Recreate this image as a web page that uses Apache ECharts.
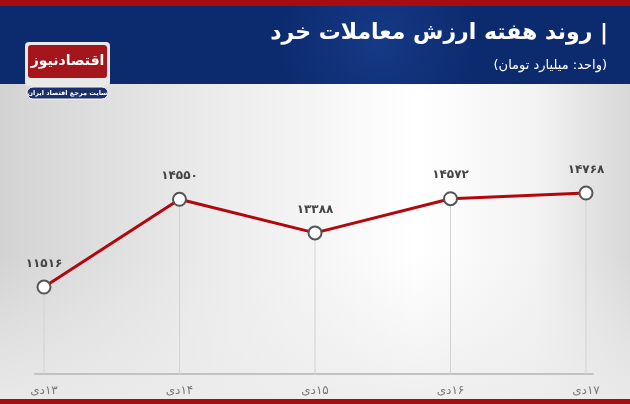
<!DOCTYPE html>
<html>
<head>
<meta charset="utf-8">
<script src="https://cdn.jsdelivr.net/npm/echarts@6/dist/echarts.min.js"></script>
<style>
html,body{margin:0;padding:0;}
#c{width:630px;height:404px;direction:rtl;}
</style>
</head>
<body>
<div id="c"></div>
<script>
const categories = ['۱۳دی', '۱۴دی', '۱۵دی', '۱۶دی', '۱۷دی'];
const values = [11516, 14550, 13388, 14572, 14768];
const titleText = '| روند هفته ارزش معاملات خرد';
const subtitleText = '(واحد: میلیارد تومان)';
const logoText = 'اقتصادنیوز';
const logoTagline = 'سایت مرجع اقتصاد ایران';

const faDigits = '۰۱۲۳۴۵۶۷۸۹';
function toFa(n) { return String(n).replace(/\d/g, d => faDigits[+d]); }

const FONT = '"DejaVu Sans", "Noto Sans", sans-serif';
const chart = echarts.init(document.getElementById('c'), null, {renderer: 'canvas'});

chart.setOption({
  animation: false,
  backgroundColor: '#eeeeee',
  textStyle: {fontFamily: FONT},
  graphic: [
    {type: 'rect', shape: {x: 0, y: 84, width: 630, height: 315}, z: -10, silent: true,
      style: {fill: {type: 'linear', x: 0, y: 0, x2: 1, y2: 0, colorStops: [
        {offset: 0, color: '#d3d3d3'}, {offset: 0.35, color: '#ececec'},
        {offset: 0.66, color: '#ffffff'}, {offset: 0.85, color: '#f3f3f3'}, {offset: 1, color: '#d8d8d8'}]}}},
    {type: 'rect', shape: {x: 0, y: 84, width: 630, height: 315}, z: -9, silent: true,
      style: {fill: {type: 'linear', x: 0, y: 0, x2: 0, y2: 1, colorStops: [
        {offset: 0, color: 'rgba(238,238,238,0)'}, {offset: 0.55, color: 'rgba(238,238,238,0)'},
        {offset: 1, color: 'rgba(236,236,236,0.85)'}]}}},
    {type: 'rect', shape: {x: 0, y: 0, width: 630, height: 84}, z: 100,
      style: {fill: {type: 'radial', x: 0.6, y: 0.5, r: 1.2, colorStops: [
        {offset: 0, color: '#163a86'}, {offset: 1, color: '#0c2a6e'}]}}},
    {type: 'rect', shape: {x: 0, y: 0, width: 630, height: 6}, z: 101, style: {fill: '#a60c10'}},
    {type: 'rect', shape: {x: 0, y: 399, width: 630, height: 5}, z: 101, style: {fill: '#a60c10'}},
    {type: 'text', z: 102, style: {x: 608, y: 33, text: titleText, align: 'right', verticalAlign: 'middle',
      fill: '#ffffff', font: 'bold 22px ' + FONT}},
    {type: 'text', z: 102, style: {x: 607, y: 66, text: subtitleText, align: 'right', verticalAlign: 'middle',
      fill: '#ffffff', font: '13px ' + FONT}},
    {type: 'rect', z: 103, shape: {x: 25, y: 42, width: 85, height: 44, r: 4}, style: {fill: '#e9e9e9'}},
    {type: 'rect', z: 104, shape: {x: 28, y: 45, width: 79, height: 33, r: 3}, style: {fill: '#a4161b'}},
    {type: 'text', z: 105, style: {x: 67.5, y: 61, text: logoText, align: 'center', verticalAlign: 'middle',
      fill: '#ffffff', font: 'bold 14px ' + FONT}},
    {type: 'rect', z: 104, shape: {x: 27, y: 87, width: 81, height: 12, r: 6},
      style: {fill: '#1b2f6b', stroke: '#ffffff', lineWidth: 1}},
    {type: 'text', z: 105, style: {x: 67.5, y: 93, text: logoTagline, align: 'center', verticalAlign: 'middle',
      fill: '#ffffff', font: 'bold 6.5px ' + FONT}}
  ],
  grid: [
    {left: 44, right: 44, top: 128.5, bottom: 29.8},
    {left: 35, right: 37, top: 128.5, bottom: 29.8}
  ],
  xAxis: [
    {type: 'category', gridIndex: 0, data: categories, boundaryGap: false,
      axisLine: {show: false}, axisTick: {show: false}, splitLine: {show: false},
      axisLabel: {color: '#777', fontSize: 12, margin: 11, fontFamily: FONT}},
    {type: 'value', gridIndex: 1, min: 0, max: 1, show: true,
      axisLine: {show: true, onZero: false, lineStyle: {color: '#c2c2c2', width: 2}},
      axisTick: {show: false}, axisLabel: {show: false}, splitLine: {show: false}}
  ],
  yAxis: [
    {type: 'value', gridIndex: 0, min: 8500, max: 17000, show: false, splitLine: {show: false}},
    {type: 'value', gridIndex: 1, min: 0, max: 1, show: false, splitLine: {show: false}}
  ],
  series: [
    {type: 'bar', xAxisIndex: 0, yAxisIndex: 0, data: values, barWidth: 1, silent: true, z: 1,
      itemStyle: {color: '#d2d2d2'}},
    {type: 'line', xAxisIndex: 0, yAxisIndex: 0, data: values, z: 3,
      symbol: 'circle', symbolSize: 13,
      lineStyle: {color: '#b1070d', width: 3},
      itemStyle: {color: '#ffffff', borderColor: '#555555', borderWidth: 2},
      label: {show: true, position: 'top', distance: 10, color: '#444', fontSize: 12, fontWeight: 'bold',
        fontFamily: FONT, formatter: p => toFa(p.value)}}
  ]
});
</script>
</body>
</html>
